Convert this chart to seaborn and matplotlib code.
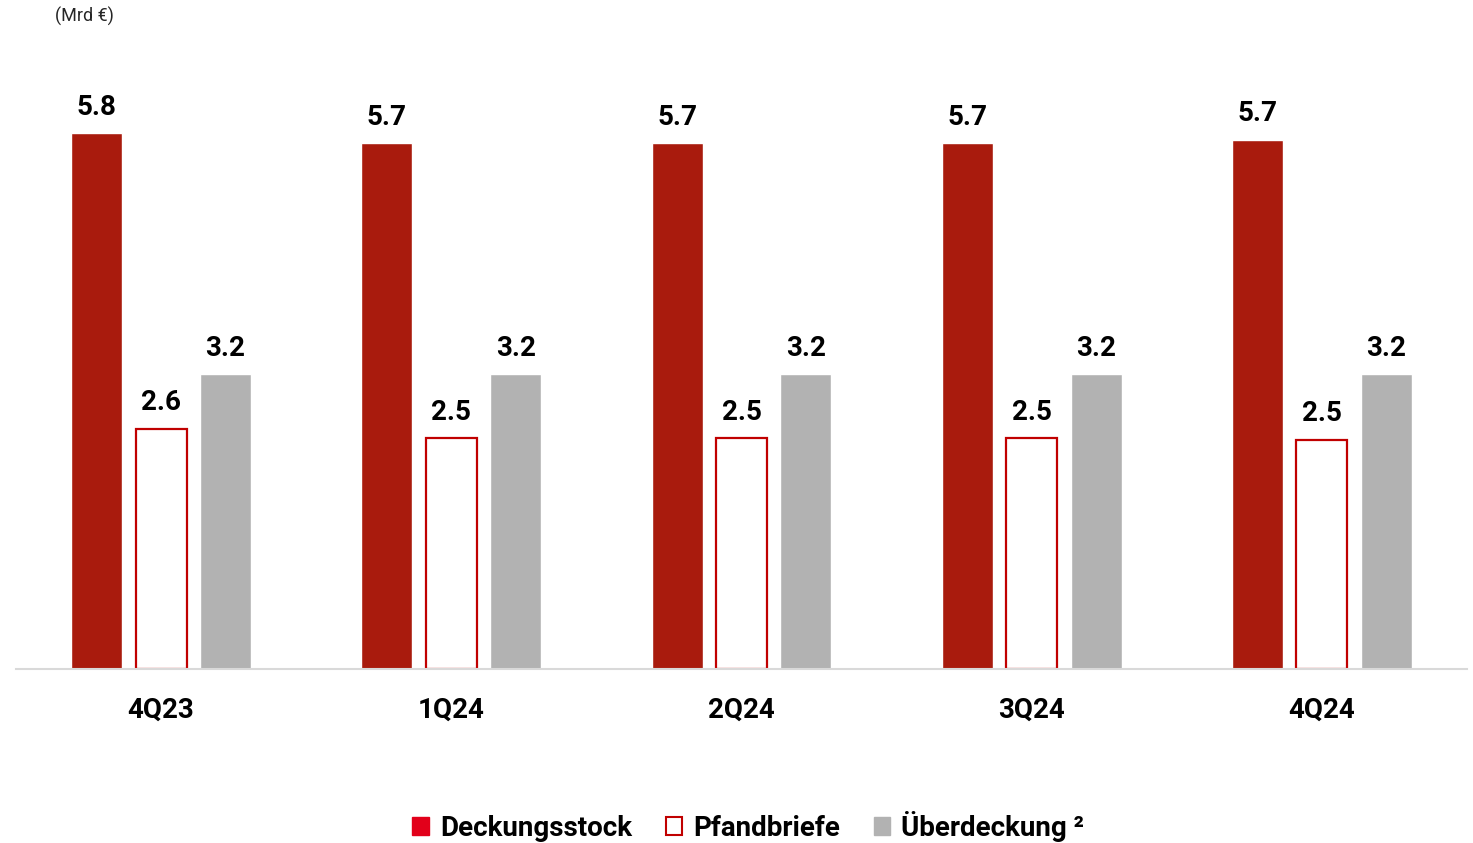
import numpy as np
import pandas as pd
import matplotlib
matplotlib.use("Agg")
import matplotlib.pyplot as plt
import seaborn as sns
from matplotlib.patches import Patch

# ─────────────────────────────────────────
# DATA (Mrd €)
# ─────────────────────────────────────────
quarters = ["4Q23", "1Q24", "2Q24", "3Q24", "4Q24"]
deckungsstock = [5.80, 5.69, 5.69, 5.69, 5.73]
pfandbriefe = [2.60, 2.50, 2.50, 2.50, 2.48]
ueberdeckung = [3.19, 3.19, 3.19, 3.19, 3.19]
series_names = ["Deckungsstock", "Pfandbriefe", "Überdeckung"]

df = pd.DataFrame({
    "Quartal": quarters * 3,
    "Serie": np.repeat(series_names, len(quarters)),
    "Wert": deckungsstock + pfandbriefe + ueberdeckung,
})

# colours
dark_red = "#A91B0D"
edge_red = "#C00000"
bright_red = "#E2001A"
grey = "#B2B2B2"

sns.set_style("white")
plt.rcParams["font.family"] = ["Roboto", "DejaVu Sans"]

fig = plt.figure(figsize=(14.73, 8.43), dpi=100)
ax = fig.add_axes([16 / 1473, 1 - 669 / 843, (1467 - 16) / 1473, (669 - 60) / 843])

sns.barplot(
    data=df, x="Quartal", y="Wert", hue="Serie",
    order=quarters, hue_order=series_names,
    palette=[dark_red, "white", grey],
    width=0.666, gap=0.21, saturation=1, legend=False, ax=ax,
)

# Pfandbriefe: hollow bars with red outline
for bar in ax.containers[1]:
    bar.set_facecolor("white")
    bar.set_edgecolor(edge_red)
    bar.set_linewidth(1.6)

for cont in ax.containers:
    ax.bar_label(cont, fmt="%.1f", padding=9, fontsize=20,
                 fontweight="bold", color="black")

ax.set_xlim(-0.5, 4.5)
ax.set_ylim(0, (669 - 60) / 92.4)
ax.set_xlabel("")
ax.set_ylabel("")
ax.set_yticks([])
ax.set_xticks(range(len(quarters)))
ax.set_xticklabels(quarters, fontsize=20, fontweight="bold", color="black")
ax.tick_params(axis="x", length=0, pad=20)
for side in ["left", "top", "right"]:
    ax.spines[side].set_visible(False)
ax.spines["bottom"].set_color("#D9D9D9")
ax.spines["bottom"].set_linewidth(1.5)

fig.text(55 / 1473, 1 - 16 / 843, "(Mrd €)", fontsize=13, color="#262626",
         va="center", ha="left")

handles = [
    Patch(facecolor=bright_red, edgecolor=bright_red),
    Patch(facecolor="white", edgecolor=edge_red, linewidth=1.5),
    Patch(facecolor=grey, edgecolor=grey),
]
labels = ["Deckungsstock", "Pfandbriefe", "Überdeckung ²"]
fig.legend(handles, labels, loc="center", bbox_to_anchor=(0.508, 0.02),
           ncol=3, frameon=False, handlelength=0.6, handleheight=0.6,
           handletextpad=0.4, columnspacing=1.2,
           prop={"size": 20, "weight": "bold"}, labelcolor="black")

fig.savefig("out.png", dpi=100)
